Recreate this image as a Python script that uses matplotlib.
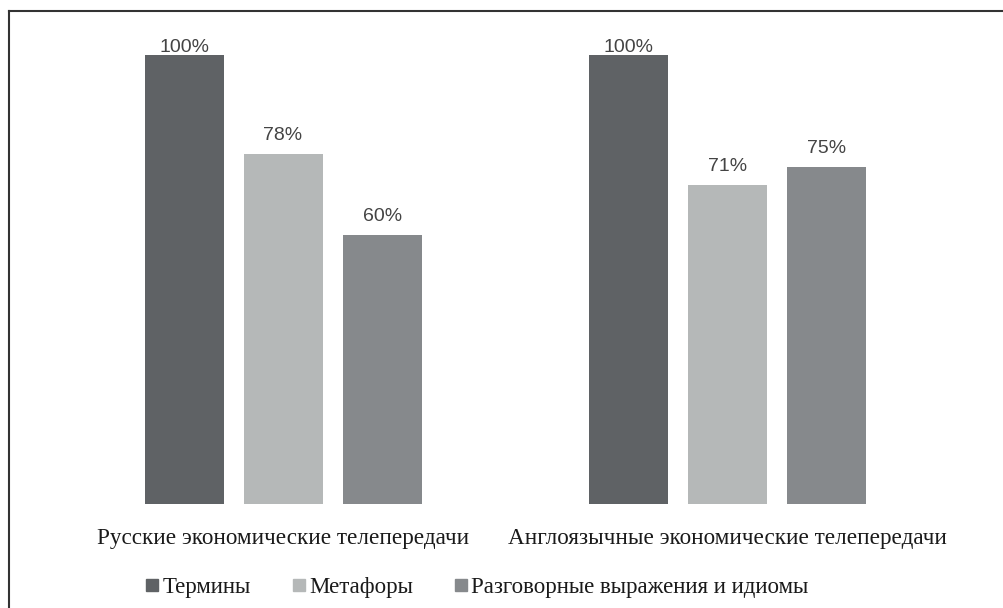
import matplotlib.pyplot as plt
from matplotlib.lines import Line2D
import numpy as np

categories = ["Русские экономические телепередачи", "Англоязычные экономические телепередачи"]
series_names = ["Термины", "Метафоры", "Разговорные выражения и идиомы"]
terms = [100, 100]
metaphors = [78, 71]
idioms = [60, 75]
colors = ["#5f6265", "#b5b8b8", "#86898c"]

fig = plt.figure(figsize=(10.04, 6.08), dpi=100)
ax = fig.add_axes([0.0608, 0.171, 0.8845, 0.7385])

x = np.arange(len(categories))
width = 0.178
step = 0.223
for i, (vals, col) in enumerate(zip([terms, metaphors, idioms], colors)):
    pos = x + (i - 1) * step
    bars = ax.bar(pos, vals, width=width, color=col)
    for b, v in zip(bars, vals):
        # labels sit a bit above the bar, but the 100% ones are squeezed against the top
        ax.text(b.get_x() + b.get_width() / 2, min(v + 2.2, 99.7), f"{v}%", ha="center", va="bottom",
                fontsize=14, color="#444444", family="Liberation Sans", clip_on=False)

ax.set_xlim(-0.5, 1.5)
ax.set_ylim(0, 100)
ax.set_yticks([])
ax.set_xticks(x)
ax.set_xticklabels(categories, family="Liberation Serif", fontsize=16.7, color="#1a1a1a")
ax.tick_params(axis="x", length=0, pad=17.5)
for s in ax.spines.values():
    s.set_visible(False)

handles = [Line2D([], [], marker="s", linestyle="none", markersize=9, color=c) for c in colors]
leg = fig.legend(handles, series_names, loc="center", bbox_to_anchor=(477 / 1004, 1 - 587 / 608), ncol=3,
                 frameon=False, handletextpad=0.15, columnspacing=1.8, handlelength=0.6,
                 borderpad=0, prop={"family": "Liberation Serif", "size": 16.5})
for t in leg.get_texts():
    t.set_color("#1a1a1a")

# border on top and left
fig.add_artist(Line2D([9 / 1004, 1], [1 - 11 / 608, 1 - 11 / 608], color="#333333", lw=1.5))
fig.add_artist(Line2D([9 / 1004, 9 / 1004], [0, 1 - 11 / 608], color="#333333", lw=1.5))

fig.savefig("out.png", dpi=100)
